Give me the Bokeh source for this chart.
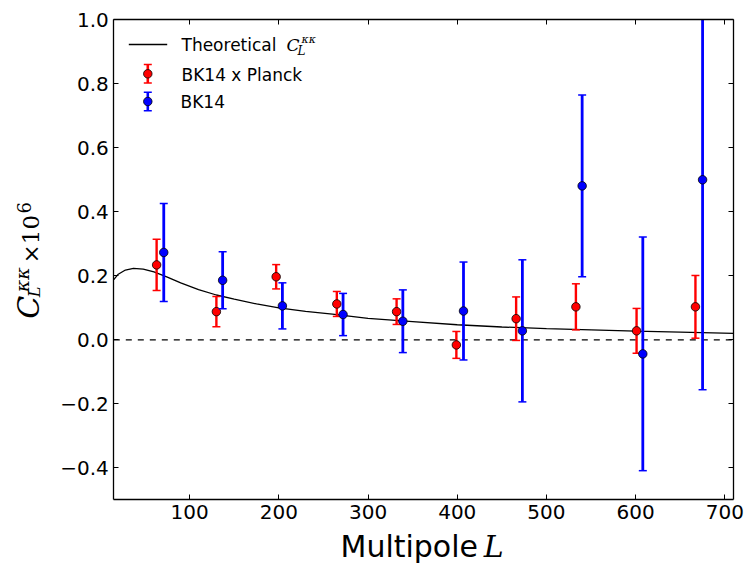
import math
from bokeh.plotting import figure
from bokeh.models import Range1d, LinearAxis, FixedTicker, Label
from bokeh.embed import file_html
from bokeh.resources import INLINE

# ---------------- data ----------------
L_theory = [15, 20, 28, 37, 48, 60, 75, 90, 110, 130, 150, 175, 200, 230,
            260, 300, 350, 400, 450, 500, 550, 600, 650, 710]
C_theory = [0.188, 0.205, 0.218, 0.223, 0.221, 0.212, 0.196, 0.178, 0.157,
            0.140, 0.127, 0.112, 0.100, 0.089, 0.080, 0.067, 0.057, 0.047,
            0.040, 0.035, 0.031, 0.027, 0.024, 0.020]

L_bkp = [63, 130, 197, 265, 332, 399, 466, 533, 601, 667]
C_bkp = [0.234, 0.088, 0.197, 0.112, 0.088, -0.016, 0.066, 0.103, 0.028, 0.103]
E_bkp = [0.080, 0.047, 0.038, 0.039, 0.040, 0.042, 0.068, 0.072, 0.070, 0.098]

L_bk = [71, 137, 204, 272, 339, 407, 473, 540, 608, 675]
C_bk = [0.273, 0.186, 0.106, 0.079, 0.058, 0.090, 0.028, 0.481, -0.044, 0.500]
E_bk = [0.153, 0.089, 0.072, 0.066, 0.098, 0.153, 0.222, 0.284, 0.365, 0.656]

X_MIN, X_MAX = 15, 710
Y_MIN, Y_MAX = -0.5, 1.0
x_ticks = [100, 200, 300, 400, 500, 600, 700]
y_ticks = [-0.4, -0.2, 0.0, 0.2, 0.4, 0.6, 0.8, 1.0]
y_tick_labels = ["\u22120.4", "\u22120.2", "0.0", "0.2", "0.4", "0.6", "0.8", "1.0"]

legend_labels = ["Theoretical ", "BK14 x Planck", "BK14"]

# ---------------- layout: plot box inside a full-canvas frame ----------------
W, H = 753, 571
BOX_L, BOX_R, BOX_T, BOX_B = 113.3, 733.3, 19.3, 499.3
kx = (X_MAX - X_MIN) / (BOX_R - BOX_L)
ky = (Y_MAX - Y_MIN) / (BOX_B - BOX_T)
x_range = Range1d(X_MIN - BOX_L * kx, X_MAX + (W - BOX_R) * kx)
y_range = Range1d(Y_MIN - (H - BOX_B) * ky, Y_MAX + BOX_T * ky)

p = figure(width=W, height=H, x_range=x_range, y_range=y_range,
           output_backend="svg", toolbar_location=None,
           min_border_left=0, min_border_right=0, min_border_top=0, min_border_bottom=0)
p.background_fill_color = "white"
p.border_fill_color = "white"
p.outline_line_color = None
p.xgrid.visible = False
p.ygrid.visible = False

# pixel-space ranges (page pixels, y measured upward from the bottom) for legend and titles
p.extra_x_ranges = {"px": Range1d(0, W)}
p.extra_y_ranges = {"px": Range1d(0, H)}
PX = dict(x_range_name="px", y_range_name="px")

def style_axis(ax, ticks, bounds, loc, show_labels=True):
    ax.ticker = FixedTicker(ticks=ticks)
    ax.bounds = bounds
    ax.fixed_location = loc
    ax.major_tick_in = 5
    ax.major_tick_out = 0
    ax.minor_tick_in = 0
    ax.minor_tick_out = 0
    ax.axis_line_color = "black"
    ax.axis_line_width = 1.3
    ax.major_tick_line_color = "black"
    ax.major_tick_line_width = 1
    if show_labels:
        ax.major_label_text_font = "DejaVu Sans"
        ax.major_label_text_font_size = "20px"
        ax.major_label_text_color = "black"
        ax.major_label_standoff = 5
    else:
        ax.major_label_text_font_size = "0px"
        ax.major_label_text_alpha = 0
        ax.major_label_standoff = 0

style_axis(p.xaxis[0], x_ticks, (X_MIN, X_MAX), Y_MIN)
style_axis(p.yaxis[0], y_ticks, (Y_MIN, Y_MAX), X_MIN)
p.yaxis[0].major_label_overrides = {t: s for t, s in zip(y_ticks, y_tick_labels)}

top_ax = LinearAxis()
style_axis(top_ax, x_ticks, (X_MIN, X_MAX), Y_MAX, show_labels=False)
p.add_layout(top_ax, "above")
right_ax = LinearAxis()
style_axis(right_ax, y_ticks, (Y_MIN, Y_MAX), X_MAX, show_labels=False)
p.add_layout(right_ax, "right")

# zero line across the plot box
p.segment(x0=[X_MIN], y0=[0], x1=[X_MAX], y1=[0], line_color="black",
          line_dash="6 6", line_width=1.2)

# theory curve
p.line(L_theory, C_theory, line_color="black", line_width=1.3)

def errorbars(xs, ys, es, color, bar_w):
    lo = [max(y - e, Y_MIN) for y, e in zip(ys, es)]
    hi = [min(y + e, Y_MAX) for y, e in zip(ys, es)]
    p.segment(x0=xs, y0=lo, x1=xs, y1=hi, line_color=color, line_width=bar_w)
    cx, cy = [], []
    for x, y, e in zip(xs, ys, es):
        for v in (y - e, y + e):
            if Y_MIN <= v <= Y_MAX:
                cx.append(x)
                cy.append(v)
    p.scatter(x=cx, y=cy, marker="dash", size=8, line_color=color, line_width=1.5)
    p.scatter(x=xs, y=ys, size=8.5, fill_color=color, line_color="black", line_width=0.8)

errorbars(L_bkp, C_bkp, E_bkp, "#ff0000", 2.4)
errorbars(L_bk, C_bk, E_bk, "#0000ff", 2.8)

# ---------------- legend (page pixel positions) ----------------
def Y(page_y):
    return H - page_y

p.line([128.3, 166.7], [Y(44), Y(44)], line_color="black", line_width=1.3, **PX)
for py, col in [(73.3, "#ff0000"), (101.0, "#0000ff")]:
    p.segment(x0=[147.3], y0=[Y(py) - 9.2], x1=[147.3], y1=[Y(py) + 9.2],
              line_color=col, line_width=2.6, **PX)
    p.scatter(x=[147.3, 147.3], y=[Y(py) - 9.2, Y(py) + 9.2], marker="dash", size=8,
              line_color=col, line_width=1.5, **PX)
    p.scatter(x=[147.3], y=[Y(py)], size=8.5, fill_color=col, line_color="black",
              line_width=0.8, **PX)

SHIFT = 0.35  # baseline correction, in em

def lab(x, page_y, size, text, font="DejaVu Sans", style="normal", rotated=False):
    if rotated:
        x = x - SHIFT * size
    else:
        page_y = page_y - SHIFT * size
    p.add_layout(Label(x=x, y=Y(page_y), text=text, text_font=font,
                       text_font_size=f"{size}px", text_font_style=style,
                       text_color="black", text_baseline="alphabetic", text_align="left",
                       angle=(math.pi / 2 if rotated else 0.0), **PX))

lab(181.0, 50.7, 17, legend_labels[0])
lab(286.0, 50.4, 17, "C", font="DejaVu Serif", style="italic")
lab(301.0, 42.5, 11, "\u03ba\u03ba", font="DejaVu Serif", style="italic")
lab(297.0, 55.0, 12, "L", font="DejaVu Serif", style="italic")
lab(181.0, 80.0, 17, legend_labels[1])
lab(180.0, 107.7, 17, legend_labels[2])

# ---------------- axis titles (composite text) ----------------
lab(340.0, 556.7, 30, "Multipole")
lab(483.3, 556.7, 30, "L", font="DejaVu Serif", style="italic")

lab(38.5, 318.3, 30, "C", font="DejaVu Serif", style="italic", rotated=True)
lab(28.3, 291.7, 19, "\u03ba\u03ba", font="DejaVu Serif", style="italic", rotated=True)
lab(40.0, 296.7, 16, "L", font="DejaVu Serif", style="italic", rotated=True)
lab(39.0, 263.0, 23, "\u00d710", font="DejaVu Serif", rotated=True)
lab(30.0, 213.0, 18, "6", font="DejaVu Serif", rotated=True)

open("out.html", "w").write(file_html(p, INLINE))
